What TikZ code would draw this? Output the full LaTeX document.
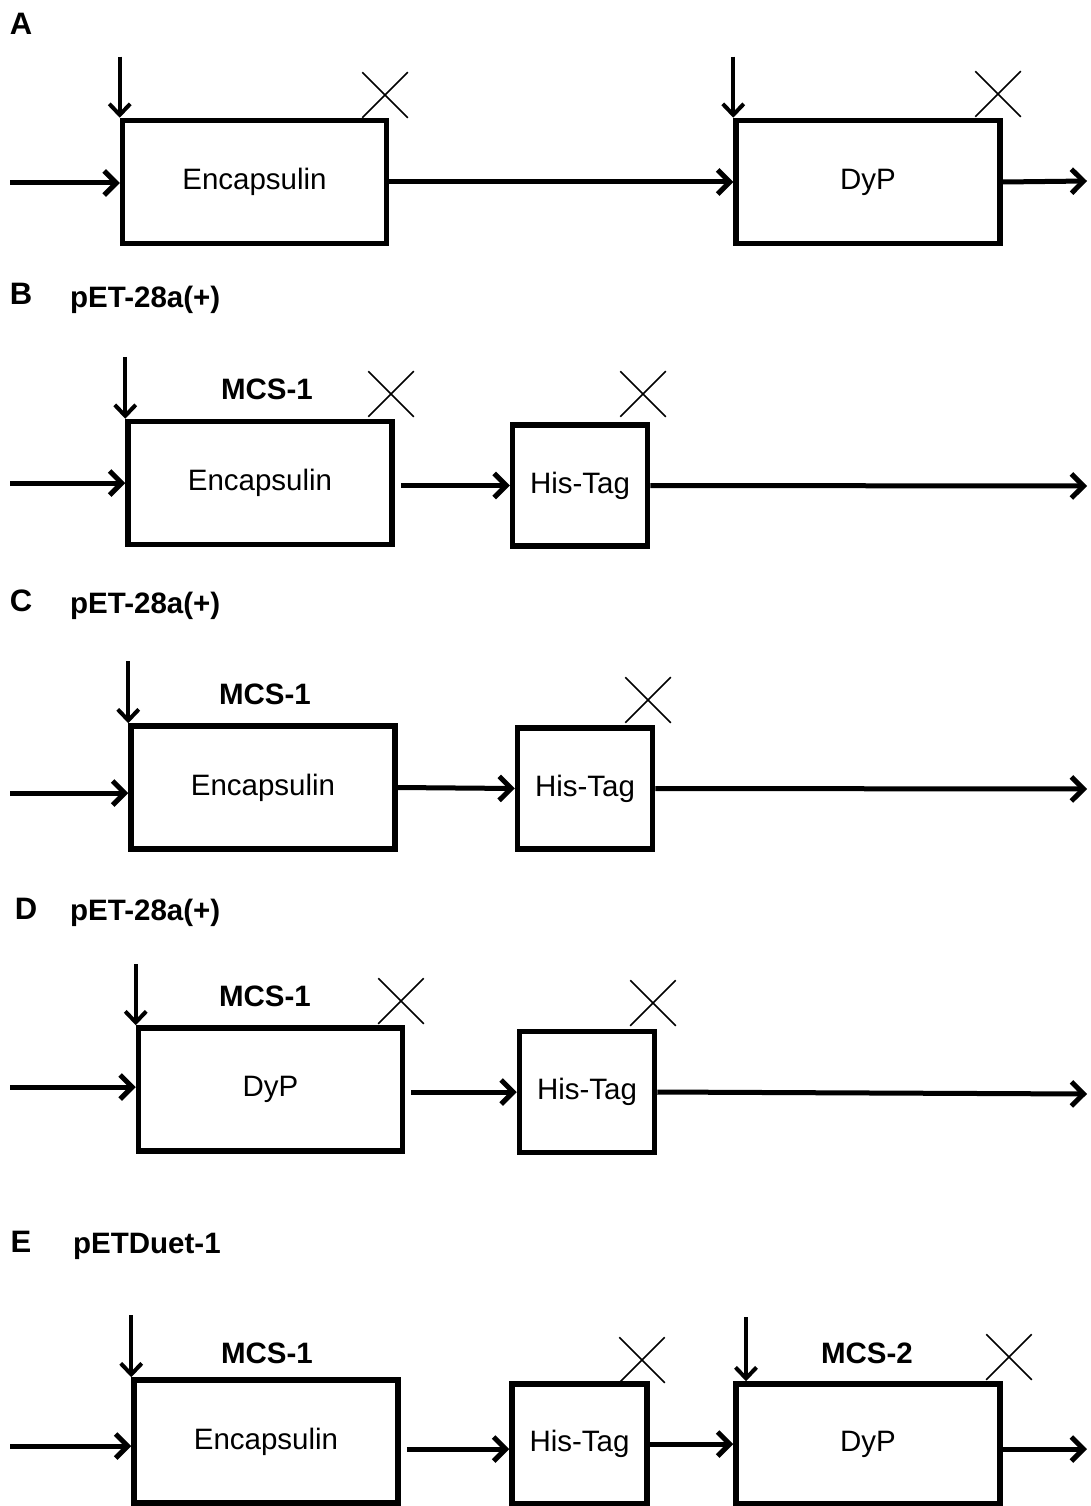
\documentclass[tikz,border=0pt]{standalone}
\usepackage{fontspec}
\setmainfont{Liberation Sans}
\usetikzlibrary{arrows.meta,shapes.misc}
\begin{document}
\begin{tikzpicture}[x=1pt,y=-1pt,
 box/.style={draw, line width=5.5pt, inner sep=0pt, font=\fontsize{29.5}{33}\selectfont},
 bigbox/.style={box, minimum width=264pt, minimum height=123pt},
 tagbox/.style={box, minimum width=135pt, minimum height=121pt},
 link/.style={line width=5pt, -{Straight Barb[length=12pt,width=24pt]}},
 site/.style={line width=4pt, -{Straight Barb[length=11pt,width=21pt]}},
 xmark/.style={draw, cross out, line width=1.5pt, minimum size=44pt, inner sep=0pt},
 panel/.style={font=\bfseries\fontsize{31}{35}\selectfont},
 vec/.style={anchor=west, inner sep=0pt, font=\bfseries\fontsize{29.5}{33}\selectfont},
 mcs/.style={font=\bfseries\fontsize{29.5}{33}\selectfont}]
\useasboundingbox (0,0) rectangle (1090,1506);

% ---------- A ----------
\node[panel] (lA) at (21,24) {A};
\node[bigbox] (encA) at (254.5,182) {Encapsulin};
\node[bigbox] (dypA) at (868,182) {DyP};
\coordinate (inA) at (10,183);
\coordinate (outA) at (1087,181);
\coordinate (sA1) at ([yshift=61pt]encA.north west);
\coordinate (sA2) at ([yshift=61pt]dypA.north west);
\draw[link] (inA) -- (inA -| encA.west);
\draw[link] (encA.east) -- (dypA.west);
\draw[link] (dypA.east) -- (outA);
\draw[site] (sA1) -- (encA.north west);
\draw[site] (sA2) -- (dypA.north west);
\node[xmark] (xA1) at (385,95) {};
\node[xmark] (xA2) at (998,94) {};

% ---------- B ----------
\node[panel] (lB) at (21,294) {B};
\node[vec] (vB) at (70,300) {pET-28a(+)};
\node[bigbox] (encB) at (260,483) {Encapsulin};
\node[tagbox] (hisB) at (580,485.5) {His-Tag};
\node[mcs] (mB) at (267,389) {MCS-1};
\coordinate (inB) at (10,483);
\coordinate (outB) at (1087,486);
\coordinate (sB1) at ([yshift=62pt]encB.north west);
\coordinate (gB) at ([xshift=6pt]encB.east);
\draw[link] (inB) -- (encB.west);
\draw[link] (gB |- hisB.west) -- (hisB.west);
\draw[link] (hisB.east) -- (outB);
\draw[site] (sB1) -- (encB.north west);
\node[xmark] (xB1) at (391,394) {};
\node[xmark] (xB2) at (643,394) {};

% ---------- C ----------
\node[panel] (lC) at (21,601) {C};
\node[vec] (vC) at (70,606) {pET-28a(+)};
\node[bigbox] (encC) at (263,787.5) {Encapsulin};
\node[tagbox] (hisC) at (585,788.5) {His-Tag};
\node[mcs] (mC) at (265,694) {MCS-1};
\coordinate (inC) at (10,793);
\coordinate (outC) at (1087,789);
\coordinate (sC1) at ([yshift=62pt]encC.north west);
\draw[link] (inC) -- (inC -| encC.west);
\draw[link] (encC.east) -- (hisC.west);
\draw[link] (hisC.east) -- (outC);
\draw[site] (sC1) -- (encC.north west);
\node[xmark] (xC1) at (648,700) {};

% ---------- D ----------
\node[panel] (lD) at (26,909) {D};
\node[vec] (vD) at (70,913) {pET-28a(+)};
\node[bigbox] (dypD) at (270.5,1089.5) {DyP};
\node[tagbox] (hisD) at (587,1092) {His-Tag};
\node[mcs] (mD) at (265,996) {MCS-1};
\coordinate (inD) at (10,1087);
\coordinate (outD) at (1087,1094);
\coordinate (sD1) at ([yshift=61pt]dypD.north west);
\coordinate (gD) at ([xshift=6pt]dypD.east);
\draw[link] (inD) -- (inD -| dypD.west);
\draw[link] (gD |- hisD.west) -- (hisD.west);
\draw[link] (hisD.east) -- (outD);
\draw[site] (sD1) -- (dypD.north west);
\node[xmark] (xD1) at (401,1001) {};
\node[xmark] (xD2) at (653,1003) {};

% ---------- E ----------
\node[panel] (lE) at (21,1242) {E};
\node[vec] (vE) at (73,1246) {pETDuet-1};
\node[bigbox] (encE) at (266,1441.5) {Encapsulin};
\node[box, minimum width=135pt, minimum height=120pt] (hisE) at (579.5,1444) {His-Tag};
\node[box, minimum width=264pt, minimum height=120pt] (dypE) at (868,1444) {DyP};
\node[mcs] (mE1) at (267,1353) {MCS-1};
\node[mcs] (mE2) at (867,1353) {MCS-2};
\coordinate (inE) at (10,1446);
\coordinate (outE) at (1087,1449);
\coordinate (sE1) at ([yshift=62pt]encE.north west);
\coordinate (sE2) at (746,1317);
\coordinate (gE) at ([xshift=6pt]encE.east);
\draw[link] (inE) -- (inE -| encE.west);
\draw[link] (gE |- 0,1449) -- (0,1449 -| hisE.west);
\draw[link] (hisE.east) -- (dypE.west);
\draw[link] (dypE.east |- outE) -- (outE);
\draw[site] (sE1) -- (encE.north west);
\draw[site] (sE2) -- (sE2 |- dypE.north);
\node[xmark] (xE1) at (642,1360) {};
\node[xmark] (xE2) at (1009,1357) {};
\end{tikzpicture}
\end{document}
